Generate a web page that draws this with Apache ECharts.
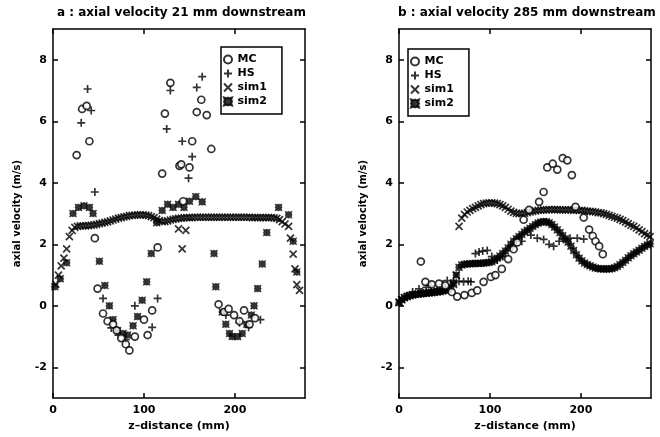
<!DOCTYPE html>
<html>
<head>
<meta charset="utf-8">
<script src="https://cdn.jsdelivr.net/npm/echarts@6/dist/echarts.min.js"></script>
<style>html,body{margin:0;padding:0;background:#fff}#c{width:660px;height:437px}</style>
</head>
<body>
<div id="c"></div>
<script>
// ---------- tick labels ----------
const xTicks = [0, 100, 200];
const yTicks = [-2, 0, 2, 4, 6, 8];
const titleA = 'a : axial velocity 21 mm downstream';
const titleB = 'b : axial velocity 285 mm downstream';
const seriesNames = ['MC', 'HS', 'sim1', 'sim2'];

// ---------- panel a : 21 mm downstream  [z (mm), axial velocity (m/s)] ----------
const mcA = [[26,4.9],[32,6.4],[37,6.5],[40,5.35],[46,2.2],[49,0.56],[55,-0.25],[60,-0.5],[66,-0.6],[70,-0.8],[75,-1.05],[80,-1.25],[84,-1.45],[90,-1.0],[100,-0.45],[104,-0.95],[109,-0.15],[115,1.9],[120,4.3],[123,6.25],[129,7.25],[139,4.55],[141,4.6],[143,3.4],[150,4.5],[153,5.35],[158,6.3],[163,6.7],[169,6.2],[174,5.1],[182,0.05],[188,-0.2],[193,-0.1],[199,-0.3],[205,-0.5],[210,-0.15],[216,-0.6],[222,-0.4]];
const hsA = [[31,5.95],[38,7.05],[42,6.35],[46,3.7],[55,0.24],[64,-0.72],[72,-0.95],[80,-1.1],[90,0.0],[109,-0.7],[115,0.24],[125,5.75],[129,7.0],[142,5.35],[149,4.15],[153,4.85],[158,7.1],[164,7.45],[190,-0.3],[205,-0.55],[215,-0.7],[228,-0.45]];
const sim1A = [[3,0.7],[6,1.0],[9,1.3],[12,1.55],[15,1.85],[18,2.25],[21,2.45],[24,2.55],[27,2.58],[30,2.6],[33,2.6],[36,2.6],[39,2.61],[42,2.62],[45,2.63],[48,2.65],[51,2.67],[54,2.69],[57,2.71],[60,2.73],[63,2.76],[66,2.79],[69,2.82],[72,2.85],[75,2.87],[78,2.89],[81,2.91],[84,2.93],[87,2.94],[90,2.95],[93,2.96],[96,2.96],[99,2.96],[102,2.95],[105,2.93],[108,2.9],[111,2.87],[114,2.82],[117,2.77],[120,2.74],[123,2.74],[126,2.76],[129,2.79],[132,2.81],[135,2.83],[138,2.84],[141,2.85],[144,2.86],[147,2.87],[150,2.87],[153,2.87],[156,2.88],[159,2.88],[162,2.88],[165,2.88],[168,2.88],[171,2.88],[174,2.88],[177,2.88],[180,2.88],[183,2.88],[186,2.88],[189,2.88],[192,2.88],[195,2.88],[198,2.88],[201,2.88],[204,2.88],[207,2.88],[210,2.88],[213,2.88],[216,2.88],[219,2.87],[222,2.87],[225,2.87],[228,2.87],[231,2.87],[234,2.87],[237,2.87],[240,2.87],[243,2.86],[246,2.84],[249,2.8],[252,2.74],[255,2.66],[259,2.58],[261,2.2],[264,1.68],[266,1.2],[268,0.69],[271,0.5],[142,1.85],[138,2.5],[146,2.45]];
const sim2A = [[2,0.62],[8,0.88],[15,1.4],[22,3.0],[28,3.2],[34,3.25],[40,3.2],[44,3.0],[51,1.45],[57,0.66],[62,0.0],[66,-0.45],[71,-0.8],[77,-0.9],[82,-0.95],[88,-0.65],[93,-0.35],[98,0.18],[103,0.78],[108,1.7],[114,2.7],[120,3.1],[126,3.3],[132,3.2],[138,3.3],[144,3.2],[150,3.4],[157,3.55],[164,3.38],[177,1.7],[179,0.62],[186,-0.2],[190,-0.6],[194,-0.9],[197,-1.0],[203,-1.0],[208,-0.9],[213,-0.6],[218,-0.3],[221,0.0],[225,0.56],[230,1.36],[235,2.38],[248,3.2],[259,2.96],[264,2.1],[268,1.1]];

// ---------- panel b : 285 mm downstream ----------
const mcB = [[24,1.44],[29,0.78],[36,0.7],[44,0.72],[51,0.66],[58,0.45],[64,0.3],[72,0.35],[80,0.42],[86,0.5],[93,0.78],[101,0.94],[106,1.0],[113,1.2],[120,1.52],[126,1.84],[130,2.06],[137,2.8],[143,3.12],[154,3.38],[159,3.7],[163,4.5],[169,4.62],[174,4.43],[180,4.8],[185,4.73],[190,4.25],[194,3.22],[203,2.87],[209,2.48],[213,2.27],[216,2.1],[220,1.94],[224,1.68]];
const hsB = [[2,0.15],[8,0.3],[15,0.45],[22,0.55],[30,0.6],[35,0.66],[42,0.56],[48,0.7],[53,0.82],[60,0.75],[66,0.8],[71,0.78],[76,0.8],[79,0.78],[84,1.7],[88,1.75],[92,1.78],[97,1.8],[102,1.6],[108,1.5],[114,1.6],[125,1.9],[135,2.1],[145,2.3],[152,2.2],[159,2.16],[165,2.0],[170,1.94],[176,2.1],[181,2.16],[188,2.2],[196,2.2],[203,2.17]];
const sim1B = [[0,0.12],[3,0.2],[6,0.27],[9,0.31],[12,0.34],[15,0.36],[18,0.38],[21,0.39],[24,0.4],[27,0.41],[30,0.42],[33,0.43],[36,0.44],[39,0.45],[42,0.46],[45,0.48],[48,0.5],[51,0.52],[54,0.55],[57,0.6],[60,0.7],[63,1.0],[66,2.58],[69,2.85],[72,2.97],[75,3.05],[78,3.1],[81,3.16],[84,3.2],[87,3.25],[90,3.29],[93,3.32],[96,3.34],[99,3.35],[102,3.35],[105,3.34],[108,3.32],[111,3.29],[114,3.25],[117,3.2],[120,3.14],[123,3.08],[126,3.04],[129,3.01],[132,3.0],[135,3.0],[138,3.01],[141,3.03],[144,3.05],[147,3.07],[150,3.09],[153,3.1],[156,3.11],[159,3.12],[162,3.12],[165,3.13],[168,3.13],[171,3.13],[174,3.13],[177,3.12],[180,3.12],[183,3.12],[186,3.12],[189,3.12],[192,3.11],[195,3.11],[198,3.1],[201,3.1],[204,3.09],[207,3.08],[210,3.07],[213,3.06],[216,3.05],[219,3.03],[222,3.02],[225,3.0],[228,2.97],[231,2.94],[234,2.91],[237,2.88],[240,2.85],[243,2.81],[246,2.77],[249,2.72],[252,2.67],[255,2.62],[258,2.58],[261,2.53],[264,2.47],[267,2.41],[270,2.35],[273,2.3],[276,2.25]];
const sim2B = [[0,0.1],[3,0.2],[6,0.26],[9,0.3],[12,0.33],[15,0.35],[18,0.37],[21,0.38],[24,0.39],[27,0.4],[30,0.41],[33,0.42],[36,0.43],[39,0.44],[42,0.45],[45,0.46],[48,0.48],[51,0.5],[54,0.53],[57,0.6],[60,0.75],[63,1.0],[66,1.25],[69,1.33],[72,1.35],[75,1.36],[78,1.37],[81,1.37],[84,1.38],[87,1.38],[90,1.38],[93,1.39],[96,1.4],[99,1.41],[102,1.43],[105,1.48],[108,1.55],[111,1.62],[114,1.7],[117,1.78],[120,1.88],[123,2.0],[126,2.1],[129,2.18],[132,2.25],[135,2.32],[138,2.4],[141,2.46],[144,2.52],[147,2.58],[150,2.64],[153,2.69],[156,2.72],[159,2.74],[162,2.73],[165,2.7],[168,2.64],[171,2.56],[174,2.47],[177,2.38],[180,2.28],[183,2.18],[186,2.07],[189,1.94],[192,1.8],[195,1.66],[198,1.55],[201,1.46],[204,1.39],[207,1.34],[210,1.3],[213,1.26],[216,1.23],[219,1.21],[222,1.2],[225,1.2],[228,1.2],[231,1.2],[234,1.21],[237,1.24],[240,1.28],[243,1.34],[246,1.41],[249,1.48],[252,1.56],[255,1.63],[258,1.69],[261,1.75],[264,1.81],[267,1.87],[270,1.93],[273,1.98],[276,2.02]];

// ---------- styling ----------
const FONT = 'DejaVu Sans';
const PLUS = 'path://M0,5 L10,5 M5,0 L5,10';
const CROSS = 'path://M0,0 L10,10 M10,0 L0,10';
const STARSQ = 'path://M0,0 L3,1 L5,0 L7,1 L10,0 L9,3 L10,5 L9,7 L10,10 L7,9 L5,10 L3,9 L0,10 L1,7 L0,5 L1,3 Z';
const XMIN = 0, XMAX = 277, YMIN = -3, YMAX = 9;
const grids = [
  {left: 53, top: 29, width: 252, height: 372},
  {left: 399, top: 29, width: 252, height: 372}
];

function xAxisFor(g, pos) {
  const main = pos === 'bottom';
  return {
    type: 'value', gridIndex: g, position: pos, min: XMIN, max: XMAX,
    axisLine: {show: true, onZero: false, lineStyle: {color: '#000', width: 1.5}},
    axisTick: {show: true, inside: true, length: 5, customValues: xTicks, lineStyle: {color: '#000', width: 1.5}},
    axisLabel: {show: main, customValues: xTicks, margin: 7, color: '#000', fontFamily: FONT, fontWeight: 'bold', fontSize: 11},
    splitLine: {show: false},
    name: main ? 'z–distance (mm)' : '', nameLocation: 'middle', nameGap: 21,
    nameTextStyle: {color: '#000', fontFamily: FONT, fontWeight: 'bold', fontSize: 11}
  };
}
function yAxisFor(g, pos) {
  const main = pos === 'left';
  return {
    type: 'value', gridIndex: g, position: pos, min: YMIN, max: YMAX,
    axisLine: {show: true, onZero: false, lineStyle: {color: '#000', width: 1.5}},
    axisTick: {show: true, inside: true, length: 5, customValues: yTicks, lineStyle: {color: '#000', width: 1.5}},
    axisLabel: {show: main, customValues: yTicks, margin: 6, color: '#000', fontFamily: FONT, fontWeight: 'bold', fontSize: 11},
    splitLine: {show: false},
    name: main ? 'axial velocity (m/s)' : '', nameLocation: 'middle', nameGap: 31, nameRotate: 90,
    nameTextStyle: {color: '#000', fontFamily: FONT, fontWeight: 'bold', fontSize: 10}
  };
}

function mk(name, data, g) {
  const base = {name: name, type: 'scatter', xAxisIndex: g * 2, yAxisIndex: g * 2, data: data, animation: false, silent: true};
  if (name === 'MC') return Object.assign(base, {symbol: 'circle', symbolSize: 7, itemStyle: {color: '#fff', borderColor: '#000', borderWidth: 1.7}, z: 4});
  if (name === 'HS') return Object.assign(base, {symbol: PLUS, symbolSize: 8, itemStyle: {color: 'transparent', borderColor: '#000', borderWidth: 1.7}, z: 3});
  if (name === 'sim1') return Object.assign(base, {symbol: CROSS, symbolSize: 7, itemStyle: {color: 'transparent', borderColor: '#000', borderWidth: 1.7}, z: 2});
  return Object.assign(base, {symbol: STARSQ, symbolSize: 7, itemStyle: {color: '#000', borderColor: '#000', borderWidth: 0.5}, z: 2});
}

function legendAt(left, top) {
  return {
    data: seriesNames, orient: 'vertical', left: left, top: top,
    padding: [7, 15, 7, 2], itemGap: 3, itemWidth: 9, itemHeight: 8,
    borderColor: '#000', borderWidth: 1.5, backgroundColor: '#fff', selectedMode: false,
    textStyle: {color: '#000', fontFamily: FONT, fontWeight: 'bold', fontSize: 11}
  };
}

const chart = echarts.init(document.getElementById('c'), null, {renderer: 'canvas'});
chart.setOption({
  backgroundColor: '#fff',
  animation: false,
  grid: grids,
  xAxis: [xAxisFor(0, 'bottom'), xAxisFor(0, 'top'), xAxisFor(1, 'bottom'), xAxisFor(1, 'top')],
  yAxis: [yAxisFor(0, 'left'), yAxisFor(0, 'right'), yAxisFor(1, 'left'), yAxisFor(1, 'right')],
  legend: [legendAt(221, 47), legendAt(408, 49)],
  graphic: [
    {type: 'text', left: 179 - 122, top: 7, style: {text: titleA, fill: '#000', font: 'bold 12px "DejaVu Sans"'}},
    {type: 'text', left: 526 - 128, top: 7, style: {text: titleB, fill: '#000', font: 'bold 12px "DejaVu Sans"'}}
  ],
  series: [
    mk('MC', mcA, 0), mk('HS', hsA, 0), mk('sim1', sim1A, 0), mk('sim2', sim2A, 0),
    mk('MC', mcB, 1), mk('HS', hsB, 1), mk('sim1', sim1B, 1), mk('sim2', sim2B, 1)
  ]
});
</script>
</body>
</html>
